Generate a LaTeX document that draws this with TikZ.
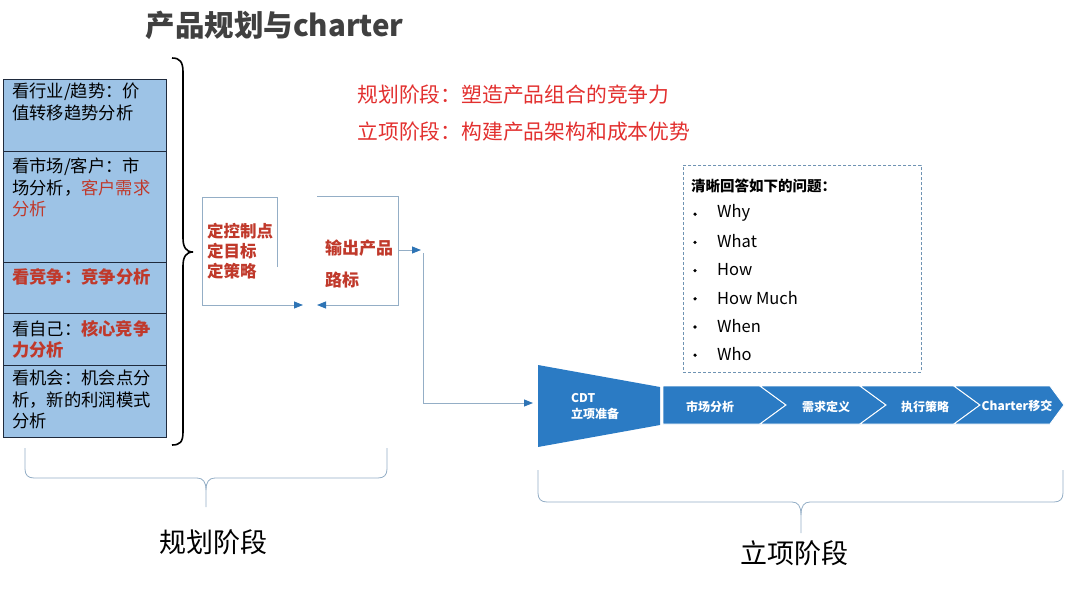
\documentclass[tikz,border=0pt]{standalone}
\usepackage{fontspec}
\setmainfont{Noto Sans CJK SC}
\usetikzlibrary{arrows.meta}

\definecolor{boxblue}{HTML}{9DC3E6}
\definecolor{boxline}{HTML}{1F2A3C}
\definecolor{flowblue}{HTML}{2B7BC4}
\definecolor{linegray}{HTML}{94AEC6}
\definecolor{tipblue}{HTML}{2E74B5}
\definecolor{hotred}{HTML}{E2302F}
\definecolor{boxred}{HTML}{C0392B}
\definecolor{titlegray}{HTML}{404040}
\definecolor{dashgray}{HTML}{6F93B3}

\begin{document}
\begin{tikzpicture}[x=1pt,y=-1pt,
  row/.style={draw=boxline,line width=1.2pt,fill=boxblue,anchor=north west,minimum width=163pt,inner sep=0pt},
  rowtext/.style={anchor=north west,align=left,inner sep=0pt,font=\fontsize{17.3}{21.5}\selectfont},
  conn/.style={draw=linegray,line width=0.9pt},
  tip/.style={-{Triangle[length=9pt,width=7pt,color=tipblue]}},
  chev/.style={fill=flowblue,draw=white,line width=0.9pt},
  chevtext/.style={text=white,font=\fontsize{12}{15}\selectfont\bfseries,inner sep=0pt},
  dot/.style={circle,fill=black,inner sep=0pt,minimum size=3.6pt},
  brc/.style={draw=linegray,line width=0.8pt}]

\useasboundingbox (0,0) rectangle (1080,608);

% title
\node[anchor=west,text=titlegray,font=\fontsize{29.5}{33}\selectfont\bfseries] (title) at (142,25) {产品规划与charter};

% -------- analysis column --------
\node[row,minimum height=72pt] (r1) at (3,79) {};
\node[row,minimum height=111pt] (r2) at (3,151) {};
\node[row,minimum height=51pt] (r3) at (3,262) {};
\node[row,minimum height=52pt] (r4) at (3,313) {};
\node[row,minimum height=72pt] (r5) at (3,365) {};

\node[rowtext] (t1) at (12,83) {看行业/趋势：价\\值转移趋势分析};
\node[rowtext] (t2) at (12,158) {看市场/客户：市\\场分析，{\color{boxred}客户需求}\\{\color{boxred}分析}};
\node[rowtext,text=boxred,font=\fontsize{17.3}{21.5}\selectfont\bfseries] (t3) at (12,268) {看竞争：竞争分析};
\node[rowtext] (t4) at (12,320) {看自己：{\bfseries\color{boxred}核心竞争}\\{\bfseries\color{boxred}力分析}};
\node[rowtext] (t5) at (12,370) {看机会：机会点分\\析，新的利润模式\\分析};

% big brace
\draw[line width=1.6pt] (172,58) .. controls (180,58) and (183,62) .. (183,72) -- (183,238)
  .. controls (183,247) and (186,252) .. (193,252)
  .. controls (186,252) and (183,257) .. (183,266) -- (183,432)
  .. controls (183,442) and (180,445) .. (172,445);

% -------- planning loop --------
\node[anchor=north west,align=left,inner sep=0pt,text=boxred,font=\fontsize{16.5}{20}\selectfont\bfseries] (ctrl) at (207,223) {定控制点\\定目标\\定策略};
\node[anchor=north west,align=left,inner sep=0pt,text=boxred,font=\fontsize{17}{32}\selectfont\bfseries] (road) at (325,240) {输出产品\\路标};

\coordinate (loopL) at (303,305);
\coordinate (loopR) at (317,305);
\coordinate (outA) at (421,250);
\coordinate (cdt) at (533,403);

\draw[conn,tip] (277,267) -- (277,197) -- (202,197) -- (202,305) -- (loopL);
\draw[conn,tip] (317,196) -- (398,196) -- (398,305) -- (loopR);
\draw[conn,tip] (398,250) -- (outA);
\draw[conn,tip] (423,253) |- (cdt);

% -------- red notes --------
\node[anchor=west,text=hotred,font=\fontsize{20.8}{24}\selectfont] (note1) at (354,95) {规划阶段：塑造产品组合的竞争力};
\node[anchor=west,text=hotred,font=\fontsize{20.8}{24}\selectfont] (note2) at (354,132) {立项阶段：构建产品架构和成本优势};

% -------- questions --------
\node[draw=dashgray,dash pattern=on 3pt off 2pt,line width=0.9pt,anchor=north west,minimum width=238pt,minimum height=207pt] (qbox) at (683,165) {};
\node[anchor=west,inner sep=0pt,font=\fontsize{14.5}{17}\selectfont\bfseries] (qhead) at (691,186) {清晰回答如下的问题：};
\foreach \w [count=\i] in {Why,What,How,How Much,When,Who}{
  \node[anchor=west,inner sep=0pt,font=\fontsize{16.5}{20}\selectfont] (q\i) at (717,{185+28.2*\i}) {\w};
  \node[dot] (b\i) at (695,{186+28.2*\i}) {};
}

% -------- charter flow --------
\fill[flowblue] (538,365) -- (660,387) -- (660,425) -- (538,447) -- cycle;
\draw[chev] (663,386) -- (760,386) -- (786,405) -- (760,424) -- (663,424) -- cycle;
\draw[chev] (760,386) -- (860,386) -- (886,405) -- (860,424) -- (760,424) -- (786,405) -- cycle;
\draw[chev] (860,386) -- (954,386) -- (980,405) -- (954,424) -- (860,424) -- (886,405) -- cycle;
\draw[chev] (954,386) -- (1050,386) -- (1064,405) -- (1050,424) -- (954,424) -- (980,405) -- cycle;

\node[chevtext,anchor=north west,align=left,font=\fontsize{12}{16}\selectfont\bfseries] (prep) at (571,393) {CDT\\立项准备};
\node[chevtext] (c1) at (710,407) {市场分析};
\node[chevtext] (c2) at (826,407) {需求定义};
\node[chevtext] (c3) at (925,407) {执行策略};
\node[chevtext] (c4) at (1017,406) {Charter移交};

% -------- stage braces --------
\draw[brc] (25,448) -- (25,469) .. controls (25,475) and (28,478) .. (34,478) -- (197,478)
  .. controls (203,478) and (206,482) .. (206,490) -- (206,507);
\draw[brc] (387,448) -- (387,469) .. controls (387,475) and (384,478) .. (378,478) -- (215,478)
  .. controls (209,478) and (206,482) .. (206,490);
\draw[brc] (538,470) -- (538,493) .. controls (538,499) and (541,502) .. (547,502) -- (792,502)
  .. controls (798,502) and (801,506) .. (801,515) -- (801,533);
\draw[brc] (1063,470) -- (1063,493) .. controls (1063,499) and (1060,502) .. (1054,502) -- (810,502)
  .. controls (804,502) and (801,506) .. (801,515);

\node[font=\fontsize{27}{30}\selectfont] (plan) at (213,542) {规划阶段};
\node[font=\fontsize{27}{30}\selectfont] (proj) at (794,553) {立项阶段};

\end{tikzpicture}
\end{document}
